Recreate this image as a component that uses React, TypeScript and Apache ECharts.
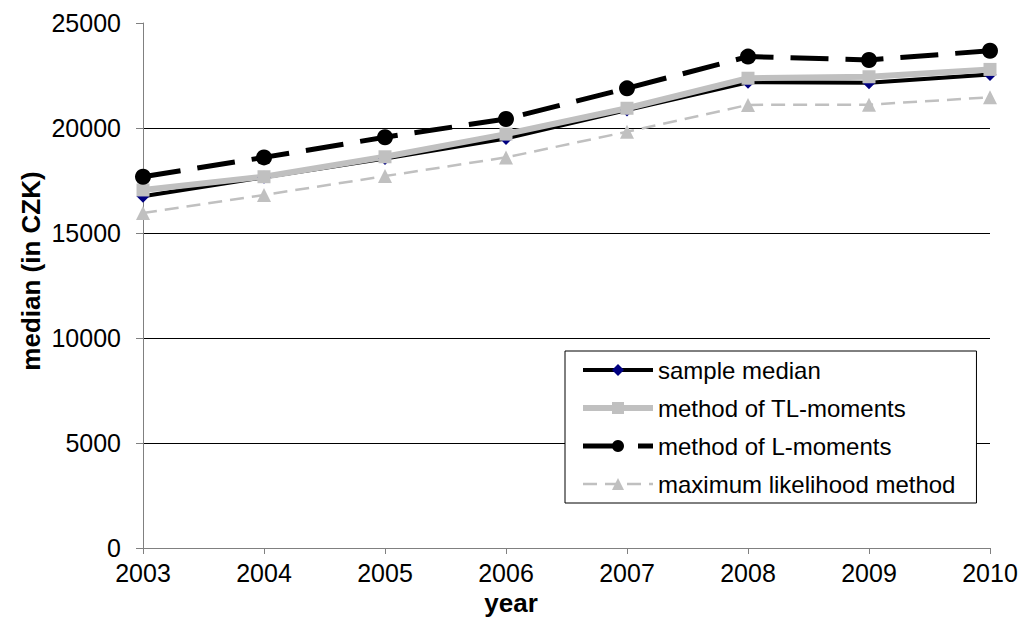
import React, { useEffect, useRef } from "react";
import * as echarts from "echarts";

const years = ["2003", "2004", "2005", "2006", "2007", "2008", "2009", "2010"];
const sampleMedian = [16750, 17650, 18550, 19500, 20860, 22180, 22150, 22550];
const tlMoments = [17050, 17680, 18630, 19710, 20940, 22370, 22440, 22790];
const lMoments = [17680, 18600, 19560, 20430, 21890, 23400, 23240, 23680];
const maxLikelihood = [15950, 16810, 17710, 18600, 19820, 21100, 21110, 21460];

const FONT = "'Liberation Sans', Arial, sans-serif";

export default function App() {
  const ref = useRef<HTMLDivElement>(null);
  useEffect(() => {
    if (!ref.current) return;
    const chart = echarts.init(ref.current, null, { renderer: "svg" });
    chart.setOption({
      animation: false,
      backgroundColor: "#fff",
      textStyle: { fontFamily: FONT },
      grid: { left: 143, right: 33, top: 23, bottom: 71, containLabel: false },
      legend: {
        orient: "vertical",
        left: 565,
        top: 351,
        padding: [7, 21, 7, 15],
        itemGap: 14,
        itemWidth: 70,
        itemHeight: 15,
        borderColor: "#000",
        borderWidth: 1,
        backgroundColor: "#fff",
        lineStyle: { width: "inherit" },
        textStyle: { fontSize: 24, color: "#000", fontFamily: FONT },
        data: [
          { name: "sample median", lineStyle: { width: 4 } },
          { name: "method of TL-moments", lineStyle: { width: 6 } },
          { name: "method of L-moments", lineStyle: { width: 5 } },
          { name: "maximum likelihood method", lineStyle: { width: 2.5 } },
        ],
      },
      xAxis: {
        type: "category",
        data: years,
        boundaryGap: false,
        axisLine: { lineStyle: { color: "#808080", width: 1 } },
        axisTick: { show: true, length: 6, lineStyle: { color: "#808080" } },
        axisLabel: { fontSize: 25, color: "#000", margin: 12, fontFamily: FONT },
        splitLine: { show: false },
      },
      yAxis: {
        type: "value",
        min: 0,
        max: 25000,
        interval: 5000,
        axisLine: { show: true, lineStyle: { color: "#808080", width: 1 } },
        axisTick: { show: true, length: 7, lineStyle: { color: "#808080" } },
        axisLabel: {
          fontSize: 25,
          color: "#000",
          margin: 22,
          fontFamily: FONT,
          formatter: (v: number) => String(v),
        },
        splitLine: { show: true, showMinLine: false, showMaxLine: false, lineStyle: { color: "#000", width: 1 } },
      },
      graphic: [
        {
          type: "text",
          x: 31,
          y: 271,
          rotation: Math.PI / 2,
          style: {
            text: "median (in CZK)",
            font: `bold 26px ${FONT}`,
            fill: "#000",
            align: "center",
            verticalAlign: "middle",
          },
        },
        {
          type: "text",
          x: 511,
          y: 603,
          style: {
            text: "year",
            font: `bold 26px ${FONT}`,
            fill: "#000",
            align: "center",
            verticalAlign: "middle",
          },
        },
      ],
      series: [
        {
          name: "maximum likelihood method",
          type: "line",
          data: maxLikelihood,
          symbol: "triangle",
          symbolSize: 14,
          itemStyle: { color: "#C0C0C0" },
          lineStyle: { color: "#C0C0C0", width: 2.5, type: [14, 8] },
        },
        {
          name: "sample median",
          type: "line",
          data: sampleMedian,
          symbol: "diamond",
          symbolSize: 13,
          itemStyle: { color: "#000080" },
          lineStyle: { color: "#000", width: 4 },
        },
        {
          name: "method of TL-moments",
          type: "line",
          data: tlMoments,
          symbol: "rect",
          symbolSize: 13,
          itemStyle: { color: "#C0C0C0" },
          lineStyle: { color: "#C0C0C0", width: 6 },
        },
        {
          name: "method of L-moments",
          type: "line",
          data: lMoments,
          symbol: "circle",
          symbolSize: 16,
          itemStyle: { color: "#000" },
          lineStyle: { color: "#000", width: 5, type: [38, 17] },
        },
      ],
    });
    return () => chart.dispose();
  }, []);
  return <div ref={ref} style={{ width: 1023, height: 619, position: "absolute", left: 0, top: 0 }} />;
}
